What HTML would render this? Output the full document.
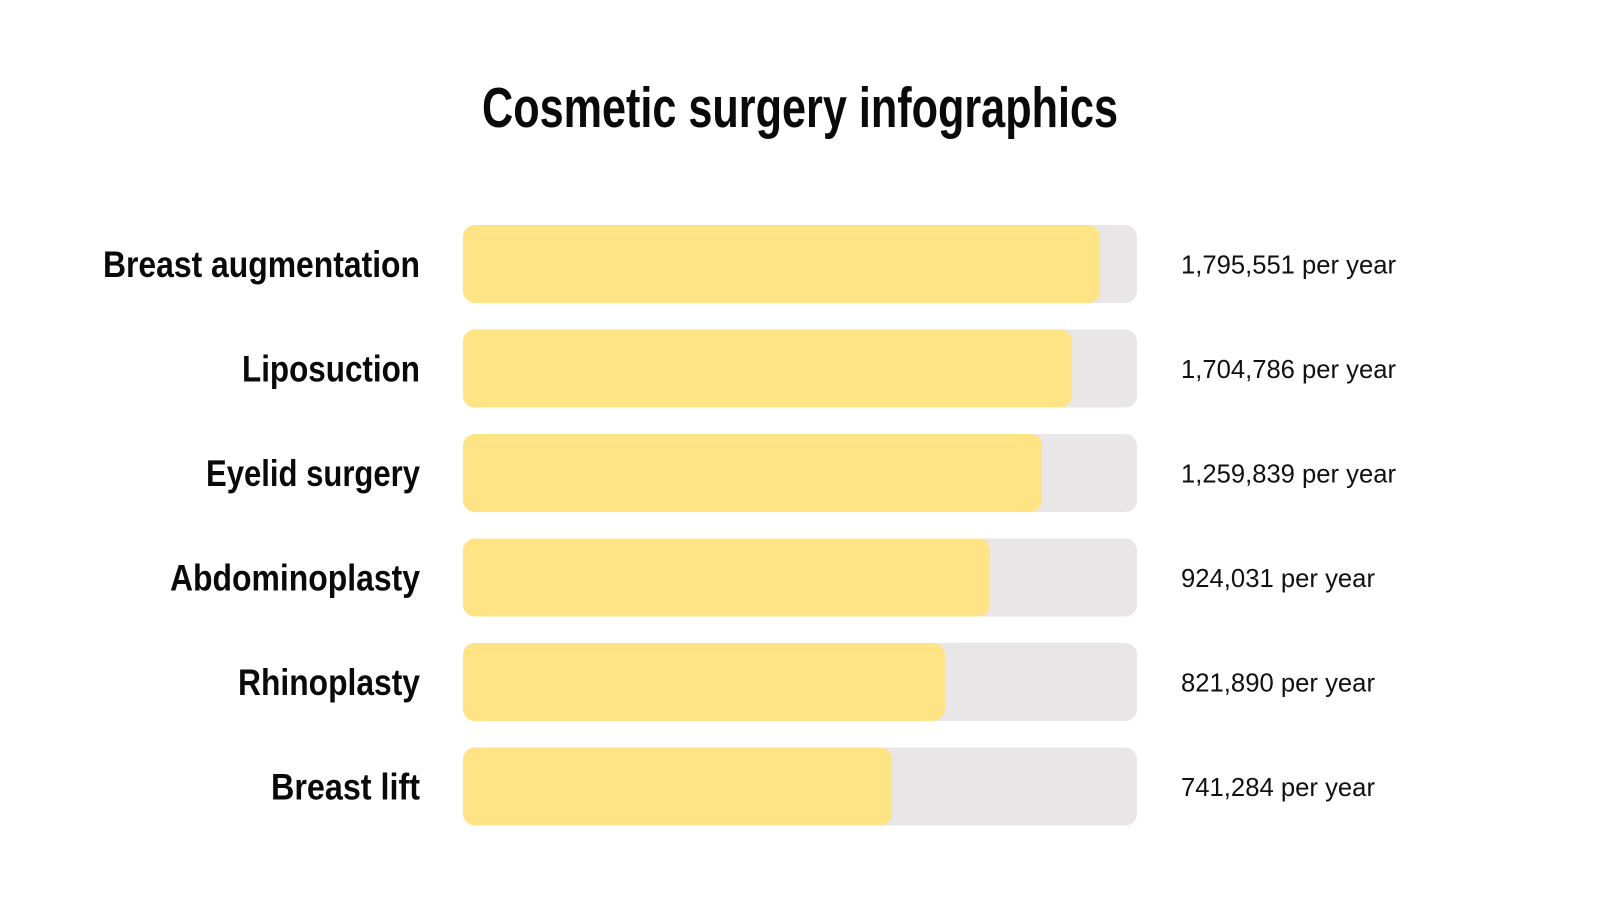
<!DOCTYPE html>
<html><head><meta charset="utf-8"><style>
html,body{margin:0;padding:0;background:#fff;}
svg{display:block;}
</style></head><body>
<svg width="1600" height="900" viewBox="0 0 1600 900" xmlns="http://www.w3.org/2000/svg">
<rect width="1600" height="900" fill="#ffffff"/>
<text x="482" y="127" font-family="Liberation Sans Narrow, Liberation Sans, sans-serif" font-weight="bold" font-size="57" fill="#0a0a0a" textLength="636" lengthAdjust="spacingAndGlyphs">Cosmetic surgery infographics</text>
<g>
<rect x="463" y="225" width="674" height="78" rx="12" fill="#e8e6e7"/>
<rect x="463" y="225" width="637" height="78" rx="12" fill="#fee485"/>
<rect x="463" y="329.5" width="674" height="78" rx="12" fill="#e8e6e7"/>
<rect x="463" y="329.5" width="609" height="78" rx="12" fill="#fee485"/>
<rect x="463" y="434" width="674" height="78" rx="12" fill="#e8e6e7"/>
<rect x="463" y="434" width="579" height="78" rx="12" fill="#fee485"/>
<rect x="463" y="538.5" width="674" height="78" rx="12" fill="#e8e6e7"/>
<rect x="463" y="538.5" width="527" height="78" rx="12" fill="#fee485"/>
<rect x="463" y="643" width="674" height="78" rx="12" fill="#e8e6e7"/>
<rect x="463" y="643" width="482" height="78" rx="12" fill="#fee485"/>
<rect x="463" y="747.5" width="674" height="78" rx="12" fill="#e8e6e7"/>
<rect x="463" y="747.5" width="429" height="78" rx="12" fill="#fee485"/>
</g>
<g font-family="Liberation Sans Narrow, Liberation Sans, sans-serif" font-weight="bold" font-size="37" fill="#0a0a0a">
<text x="103" y="277" textLength="317" lengthAdjust="spacingAndGlyphs">Breast augmentation</text>
<text x="242" y="381.5" textLength="178" lengthAdjust="spacingAndGlyphs">Liposuction</text>
<text x="206" y="486" textLength="214" lengthAdjust="spacingAndGlyphs">Eyelid surgery</text>
<text x="170" y="590.5" textLength="250" lengthAdjust="spacingAndGlyphs">Abdominoplasty</text>
<text x="238" y="695" textLength="182" lengthAdjust="spacingAndGlyphs">Rhinoplasty</text>
<text x="271" y="799.5" textLength="149" lengthAdjust="spacingAndGlyphs">Breast lift</text>
</g>
<g font-family="Liberation Sans, sans-serif" font-size="26" fill="#111111">
<text x="1181" y="273.5" textLength="215" lengthAdjust="spacingAndGlyphs">1,795,551 per year</text>
<text x="1181" y="378" textLength="215" lengthAdjust="spacingAndGlyphs">1,704,786 per year</text>
<text x="1181" y="482.5" textLength="215" lengthAdjust="spacingAndGlyphs">1,259,839 per year</text>
<text x="1181" y="587" textLength="194" lengthAdjust="spacingAndGlyphs">924,031 per year</text>
<text x="1181" y="691.5" textLength="194" lengthAdjust="spacingAndGlyphs">821,890 per year</text>
<text x="1181" y="796" textLength="194" lengthAdjust="spacingAndGlyphs">741,284 per year</text>
</g>
</svg>
</body></html>
